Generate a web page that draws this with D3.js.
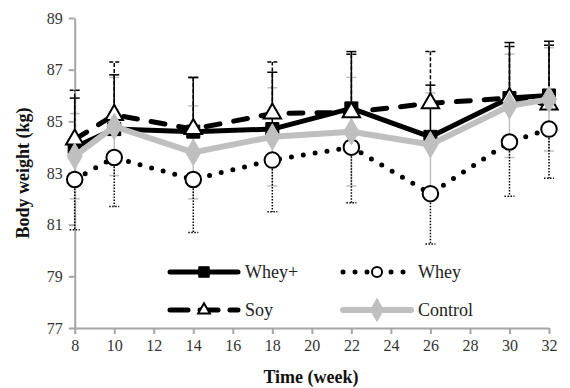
<!DOCTYPE html>
<html>
<head>
<meta charset="utf-8">
<script src="https://cdn.jsdelivr.net/npm/d3@7"></script>
<style>
  body { margin: 0; background: #fff; }
  svg text { font-family: "Liberation Serif", "DejaVu Serif", serif; }
</style>
</head>
<body>
<svg width="570" height="388"></svg>
<script>
// weeks on the x axis
const weeks = [8, 10, 14, 18, 22, 26, 30, 32];

// group means (kg) and SD
const wheyPlus = [84.0, 84.7, 84.6, 84.7, 85.5, 84.4, 85.9, 86.0];
const wheyPlusSd = [1.9, 2.1, 2.1, 2.2, 2.2, 2.0, 2.15, 2.1];
const whey = [82.75, 83.6, 82.75, 83.5, 84.0, 82.2, 84.2, 84.7];
const wheySd = [1.95, 1.9, 2.05, 2.0, 2.15, 1.95, 2.1, 1.9];
const soy = [84.3, 85.25, 84.7, 85.3, 85.35, 85.7, 85.9, 85.65];
const soySd = [1.9, 2.05, 2.0, 2.0, 2.25, 2.0, 2.0, 2.3];
const control = [83.65, 84.8, 83.8, 84.4, 84.6, 84.1, 85.6, 85.85];
const controlSd = [1.65, 1.9, 1.8, 1.9, 2.1, 2.0, 2.0, 2.0];

const xTicks = [8, 10, 12, 14, 16, 18, 20, 22, 24, 26, 28, 30, 32];
const yTicks = [77, 79, 81, 83, 85, 87, 89];

const svg = d3.select("svg");
const x = d3.scaleLinear().domain([8, 32]).range([74.7, 549]);
const y = d3.scaleLinear().domain([77, 89]).range([328, 18]);
const axisGray = "#a6a6a6";
const lightGray = "#bfbfbf";

// axes
const xAxis = svg.append("g")
  .attr("transform", `translate(0,${y(77)})`)
  .call(d3.axisBottom(x).tickValues(xTicks).tickSize(6).tickPadding(6).tickSizeOuter(0));
const yAxis = svg.append("g")
  .attr("transform", `translate(${x(8)},0)`)
  .call(d3.axisLeft(y).tickValues(yTicks).tickSize(6).tickPadding(6).tickSizeOuter(0));
[xAxis, yAxis].forEach((g) => {
  g.selectAll("path, line").attr("stroke", axisGray).attr("stroke-width", 2);
  g.selectAll("text").attr("font-family", "Liberation Serif").attr("font-size", 16).attr("fill", "#333");
});

svg.append("text")
  .attr("x", 311).attr("y", 383)
  .attr("text-anchor", "middle")
  .attr("font-size", 18).attr("font-weight", "bold")
  .attr("fill", "#111")
  .text("Time (week)");
svg.append("text")
  .attr("transform", `translate(29,${y(83)}) rotate(-90)`)
  .attr("text-anchor", "middle")
  .attr("font-size", 18).attr("font-weight", "bold")
  .attr("fill", "#111")
  .text("Body weight (kg)");

const rows = (vals, sds) => weeks.map((w, i) => ({ w, v: vals[i], sd: sds[i] }));

// error bars
function errorBars(data, dir, color, dash) {
  const g = svg.append("g").attr("stroke", color).attr("stroke-width", 1.5).attr("fill", "none");
  data.forEach((d) => {
    const end = dir > 0 ? d.v + d.sd : d.v - d.sd;
    g.append("line")
      .attr("x1", x(d.w)).attr("x2", x(d.w))
      .attr("y1", y(d.v)).attr("y2", y(end))
      .attr("stroke-dasharray", dash);
    g.append("line")
      .attr("x1", x(d.w) - 5).attr("x2", x(d.w) + 5)
      .attr("y1", y(end)).attr("y2", y(end))
      .attr("stroke-dasharray", dash);
  });
}
errorBars(rows(control, controlSd), 1, lightGray, null);
errorBars(rows(control, controlSd), -1, lightGray, null);
errorBars(rows(whey, wheySd), -1, "#000", "1.5 1.5");
errorBars(rows(wheyPlus, wheyPlusSd), 1, "#000", null);
errorBars(rows(soy, soySd), 1, "#000", "4 2");

const line = d3.line().x((d) => x(d.w)).y((d) => y(d.v));

// markers
const sqSym = d3.symbol().type(d3.symbolSquare).size(170);
const triSym = d3.symbol().type(d3.symbolTriangle).size(130);
const circSym = d3.symbol().type(d3.symbolCircle).size(190);
const diaSym = d3.symbol().type(d3.symbolDiamond).size(200);

const series = [
  { data: rows(whey, wheySd), stroke: "#000", width: 5, dash: "0 12", cap: "round",
    sym: circSym, fill: "#fff", mstroke: "#000", msw: 2 },
  { data: rows(wheyPlus, wheyPlusSd), stroke: "#000", width: 5, dash: null, cap: "butt",
    sym: sqSym, fill: "#000", mstroke: "#000", msw: 1 },
  { data: rows(soy, soySd), stroke: "#000", width: 5, dash: "14 14", cap: "round",
    sym: triSym, fill: "#fff", mstroke: "#000", msw: 2 },
  { data: rows(control, controlSd), stroke: lightGray, width: 6, dash: null, cap: "butt",
    sym: diaSym, fill: lightGray, mstroke: lightGray, msw: 1 },
];

series.forEach((s) => {
  svg.append("path")
    .datum(s.data)
    .attr("d", line)
    .attr("fill", "none")
    .attr("stroke", s.stroke)
    .attr("stroke-width", s.width)
    .attr("stroke-linecap", s.cap)
    .attr("stroke-linejoin", "round")
    .attr("stroke-dasharray", s.dash);
  svg.append("g").selectAll("path")
    .data(s.data)
    .join("path")
    .attr("transform", (d) => `translate(${x(d.w)},${y(d.v)})`)
    .attr("d", s.sym)
    .attr("fill", s.fill)
    .attr("stroke", s.mstroke)
    .attr("stroke-width", s.msw);
});

// legend
const legendItems = [
  { name: "Whey+", lx: 170, ly: 272, s: series[1], sym: d3.symbol().type(d3.symbolSquare).size(110) },
  { name: "Whey", lx: 343, ly: 272, s: series[0], sym: d3.symbol().type(d3.symbolCircle).size(80) },
  { name: "Soy", lx: 170, ly: 310, s: series[2], sym: d3.symbol().type(d3.symbolTriangle).size(60) },
  { name: "Control", lx: 343, ly: 310, s: series[3], sym: d3.symbol().type(d3.symbolDiamond).size(150) },
];
legendItems.forEach((it) => {
  const g = svg.append("g");
  g.append("line")
    .attr("x1", it.lx).attr("x2", it.lx + 68)
    .attr("y1", it.ly).attr("y2", it.ly)
    .attr("stroke", it.s.stroke)
    .attr("stroke-width", it.s.width)
    .attr("stroke-linecap", "round")
    .attr("stroke-dasharray", it.s.dash ? (it.s.dash === "0 12" ? "0 12" : "18 12") : null);
  g.append("path")
    .attr("transform", `translate(${it.lx + 34},${it.ly})`)
    .attr("d", it.sym)
    .attr("fill", it.s.fill)
    .attr("stroke", it.s.mstroke)
    .attr("stroke-width", it.s.msw);
  g.append("text")
    .attr("x", it.lx + 75).attr("y", it.ly + 6)
    .attr("font-size", 18)
    .attr("fill", "#222")
    .text(it.name);
});
</script>
</body>
</html>
